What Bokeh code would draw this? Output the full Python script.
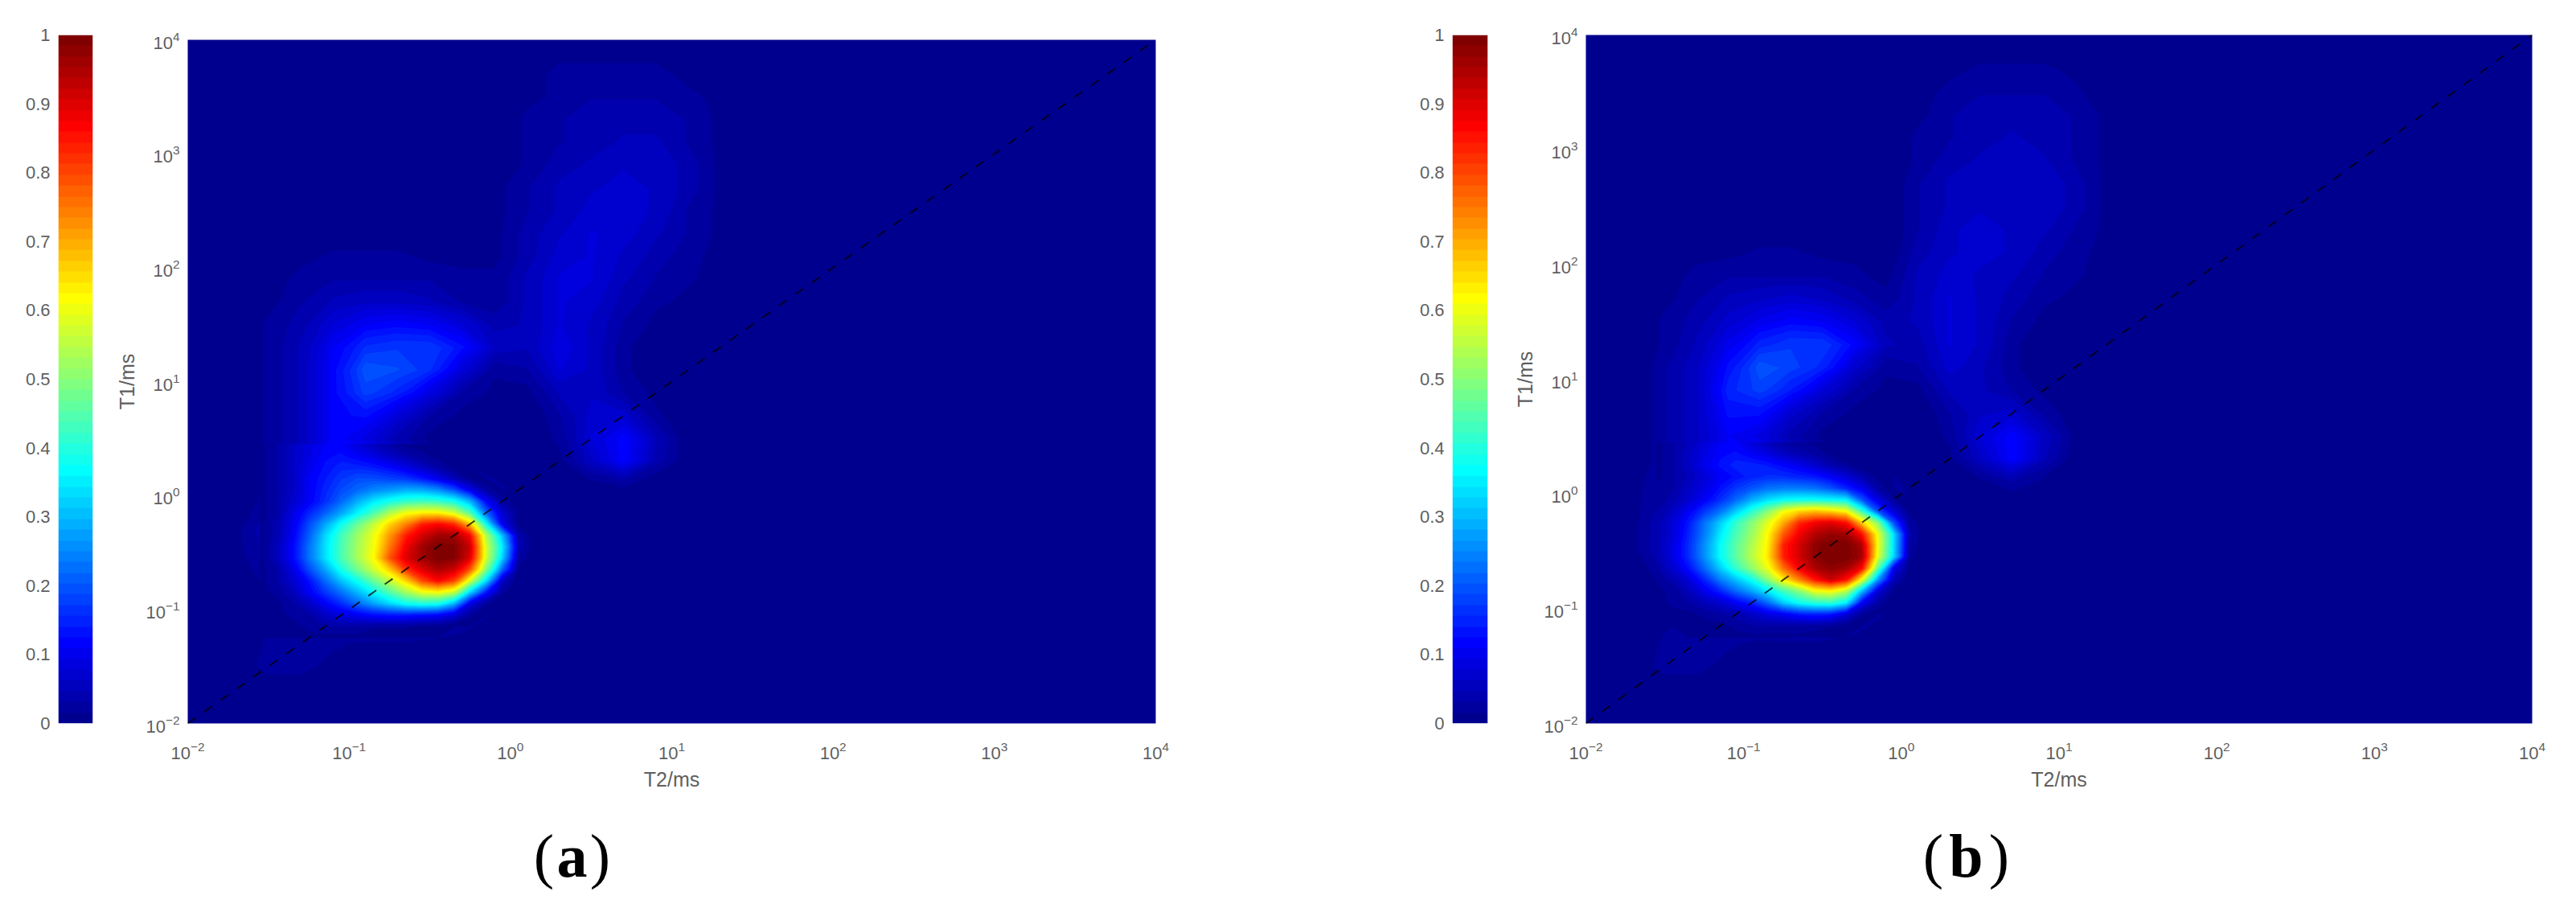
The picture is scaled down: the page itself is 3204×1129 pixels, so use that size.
import numpy as np
from bokeh.embed import file_html
from bokeh.resources import INLINE
from bokeh.layouts import row, column
from bokeh.models import Label, FixedTicker, LinearColorMapper, Range1d
from bokeh.plotting import figure

# ---- read-off values, in percent of the colour scale ----
# coarse field: columns log10(T2) = -1.9 ... 1.9 step 0.2, rows log10(T1) = -1.9 ... 3.9 step 0.2
field_log_t2 = [-1.9, -1.7, -1.5, -1.3, -1.1, -0.9, -0.7, -0.5, -0.3, -0.1, 0.1, 0.3, 0.5, 0.7, 0.9, 1.1, 1.3, 1.5, 1.7, 1.9]
field_log_t1 = [-1.9, -1.7, -1.5, -1.3, -1.1, -0.9, -0.7, -0.5, -0.3, -0.1, 0.1, 0.3, 0.5, 0.7, 0.9, 1.1, 1.3, 1.5, 1.7, 1.9,
                2.1, 2.3, 2.5, 2.7, 2.9, 3.1, 3.3, 3.5, 3.7, 3.9]
field_a = [
 [1,0,1,1],
 [1,1,1,1],
 [0,1,2,2,1],
 [0,0,2,2,2,1,1],
 [0,0,1,3,6,12,14,12,4],
 [0,0,1,7,20,35,52,60,35,3],
 [0,0,3,15,34,52,70,92,85,25],
 [0,1,4,20,40,60,85,100,100,35,2],
 [0,1,5,20,40,57,80,95,95,30,2],
 [0,0,3,10,20,32,42,42,35,5],
 [0,0,2,6,15,20,18,14,8,2,0,0,1,2],
 [0,0,2,6,12,12,7,4,1,0,0,1,6,12,4],
 [0,0,2,5,12,9,4,1,0,0,0,2,8,12,5],
 [0,0,2,5,12,13,8,3,1,0,0,3,7,7,2],
 [0,0,2,5,12,18,15,9,3,1,1,5,6,3,1],
 [0,0,2,5,12,20,19,16,8,2,3,8,6,2],
 [0,0,2,5,11,16,17,17,13,6,5,9,6,2],
 [0,0,2,4,8,11,12,11,8,4,5,8,6,3,1],
 [0,0,1,3,5,6,6,5,3,2,5,8,7,4,2,1],
 [0,0,1,2,3,3,3,3,2,2,5,8,8,5,3,2],
 [0,0,0,1,2,2,2,1,1,1,4,7,8,6,4,2,1],
 [0,0,0,0,0,0,0,0,0,1,4,6,8,7,5,3,1],
 [0,0,0,0,0,0,0,0,0,1,3,5,7,7,6,3,1],
 [0,0,0,0,0,0,0,0,0,1,3,5,6,7,6,4,1],
 [0,0,0,0,0,0,0,0,0,0,2,4,5,6,6,4,1],
 [0,0,0,0,0,0,0,0,0,0,2,3,4,5,5,3,1],
 [0,0,0,0,0,0,0,0,0,0,2,3,4,4,4,3,1],
 [0,0,0,0,0,0,0,0,0,0,1,2,3,3,3,2,1],
 [0,0,0,0,0,0,0,0,0,0,1,2,2,2,2,1],
 [0,0,0,0,0,0,0,0,0,0,0,1,1,1,1],
]
field_b = [
 [0,0,1,1],
 [0,1,1,1,1],
 [0,1,2,2,1,1],
 [0,0,2,2,2,1,1,1],
 [0,0,1,2,5,9,14,14,6],
 [0,0,1,6,15,30,48,62,40,3],
 [0,0,3,12,28,48,72,94,85,25],
 [0,1,6,20,40,58,88,100,100,30,2],
 [0,1,6,22,40,58,88,97,95,30,2],
 [0,1,4,12,22,33,38,40,32,6],
 [0,1,3,8,14,20,22,20,13,3,0,0,1,3,1],
 [0,0,3,6,12,12,8,4,1,0,0,1,6,12,5],
 [0,0,3,6,11,9,4,1,0,0,0,2,8,12,6,1],
 [0,0,3,6,13,13,7,3,1,0,0,3,6,7,3],
 [0,0,3,6,15,18,14,8,3,1,1,5,5,3,1],
 [0,0,3,6,13,20,18,15,7,2,3,7,5,2],
 [0,0,2,5,10,15,17,17,12,5,4,8,6,2],
 [0,0,2,4,7,10,12,11,8,4,5,8,6,3,1],
 [0,0,1,3,5,6,7,6,4,2,5,8,6,4,2,1],
 [0,0,1,2,3,3,3,3,2,1,5,7,6,5,3,2],
 [0,0,0,1,1,2,2,1,1,0,4,6,7,6,4,2,1],
 [0,0,0,0,0,0,0,0,0,0,3,6,7,6,5,3,1],
 [0,0,0,0,0,0,0,0,0,0,3,5,6,6,6,4,1],
 [0,0,0,0,0,0,0,0,0,0,3,5,6,6,6,4,1],
 [0,0,0,0,0,0,0,0,0,0,2,4,5,6,5,3,1],
 [0,0,0,0,0,0,0,0,0,0,2,3,4,5,4,3,1],
 [0,0,0,0,0,0,0,0,0,0,1,3,4,4,4,3,1],
 [0,0,0,0,0,0,0,0,0,0,1,2,3,3,3,2],
 [0,0,0,0,0,0,0,0,0,0,0,1,2,2,2,1],
 [0],
]
# finer read-off around the main peak: columns step 0.1, rows step 0.1
peak_log_t2 = [-1.55, -1.45, -1.35, -1.25, -1.15, -1.05, -0.95, -0.85, -0.75, -0.65, -0.55, -0.45, -0.35, -0.25, -0.15, -0.05, 0.05, 0.15]
peak_log_t1 = [-1.25, -1.15, -1.05, -0.95, -0.85, -0.75, -0.65, -0.55, -0.45, -0.35, -0.25, -0.15, -0.05, 0.05, 0.15, 0.25, 0.35, 0.45]
peak_a = [
 [1,1,1,1,1,1,1,0],
 [1,1,1,2,3,3,3,2,2,2,1,1],
 [0,1,2,3,6,9,11,13,14,14,13,12,8,2],
 [1,1,3,6,11,16,22,28,33,38,40,39,30,9,2],
 [1,2,5,11,17,23,30,37,45,53,60,62,57,33,14,2],
 [1,3,7,13,22,31,38,47,56,66,80,87,81,58,34,6],
 [1,3,9,19,28,39,48,57,67,82,90,95,92,79,50,22,1],
 [1,5,12,23,34,44,53,62,79,90,96,100,99,90,58,33,3],
 [1,5,12,23,34,44,53,61,75,88,96,100,99,92,58,36,5],
 [1,4,11,21,33,43,52,60,72,84,91,96,96,87,55,31,4],
 [1,4,10,19,28,38,47,56,66,74,84,87,83,68,38,10,1],
 [1,3,9,15,21,28,36,44,54,61,63,63,58,45,22,7,1],
 [1,3,7,11,16,22,29,35,39,42,43,42,39,30,12,3],
 [1,3,6,11,15,19,22,25,27,29,29,26,20,10,3],
 [1,3,6,11,14,17,19,19,18,17,14,10,5,1],
 [1,3,6,10,13,15,15,14,12,9,6,3,1],
 [1,3,6,9,12,13,11,9,6,4,2,1],
 [1,3,6,9,11,11,8,5,3,1,1],
]
peak_b = [
 [0,0,0,1,1,1,1,1,1,1],
 [0,0,1,1,1,2,3,3,3,3,3,2,1],
 [0,1,1,2,3,4,6,9,11,14,15,14,8,2],
 [1,2,3,5,7,11,15,22,32,38,41,42,36,11,3],
 [1,2,5,10,15,22,28,35,43,50,60,62,55,30,8,1],
 [2,4,8,15,24,31,38,50,63,74,85,92,86,60,27,5],
 [3,7,13,22,32,42,51,60,76,88,95,98,96,87,47,10,1],
 [4,9,16,26,37,46,55,64,84,91,98,100,100,96,60,34,2],
 [4,9,16,26,37,46,54,63,84,91,98,100,100,95,62,35,3],
 [4,8,15,24,35,44,52,62,78,88,94,97,96,86,61,35,4],
 [4,8,14,23,32,42,50,59,70,83,88,90,86,67,51,20,3],
 [3,6,11,17,23,32,41,50,61,66,68,66,62,43,20,8,1],
 [2,4,7,11,16,22,29,34,37,38,38,37,36,20,9,2],
 [2,3,6,9,13,17,20,23,24,24,23,20,15,10,3],
 [1,3,5,8,11,13,15,16,16,15,14,11,8,4,1],
 [1,3,6,10,13,15,15,14,12,10,7,4,2],
 [1,3,6,9,12,13,11,9,6,4,3,1],
 [1,3,5,8,11,11,8,5,3,2,1],
]
axis_ticks = [1e-2, 1e-1, 1e0, 1e1, 1e2, 1e3, 1e4]
diagonal = [1e-2, 1e4]
colorbar_ticks = [0, .1, .2, .3, .4, .5, .6, .7, .8, .9, 1]


def jet(n=64):
    out = []
    for i in range(n):
        v = (i + 1) / n
        r = min(max(min(4 * v - 1.5, -4 * v + 4.5), 0), 1)
        g = min(max(min(4 * v - 0.5, -4 * v + 3.5), 0), 1)
        b = min(max(min(4 * v + 0.5, -4 * v + 2.5), 0), 1)
        out.append("#%02x%02x%02x" % (round(r * 255), round(g * 255), round(b * 255)))
    return out


PALETTE = jet(64)
LEVELS = [k / 64 for k in range(64)] + [1.01]
GREY = "#5f5f5f"
FONT = "Liberation Sans"
HEIGHT = 1010
BOTTOM = 899
TOP = 43


def to_grid(rows, ncols):
    arr = np.zeros((len(rows), ncols))
    for i, r in enumerate(rows):
        arr[i, :len(r)] = r
    return arr / 100.0


def style_axes(p, size="22px"):
    for ax in (p.xaxis[0], p.yaxis[0]):
        ax.axis_line_color = None
        ax.major_tick_line_color = None
        ax.minor_tick_line_color = None
        ax.major_tick_out = 0
        ax.major_tick_in = 0
        ax.minor_tick_out = 0
        ax.minor_tick_in = 0
        ax.major_label_text_color = GREY
        ax.major_label_text_font = FONT
        ax.major_label_text_font_size = size
        ax.axis_label_text_color = GREY
        ax.axis_label_text_font = FONT
        ax.axis_label_text_font_size = "25px"
        ax.axis_label_text_font_style = "normal"
    p.grid.visible = False
    p.outline_line_color = None


def colorbar_fig(left, frame_w):
    mapper = LinearColorMapper(palette=PALETTE, low=0, high=1)
    p = figure(width=left + frame_w + 8, height=HEIGHT,
               frame_width=frame_w, frame_height=BOTTOM - TOP,
               x_range=Range1d(0, 1), y_range=Range1d(0, 1),
               min_border_left=left, min_border_right=8, min_border_top=TOP, min_border_bottom=HEIGHT - BOTTOM,
               output_backend="svg", toolbar_location=None)
    ramp = (np.arange(64) + 0.5).reshape(64, 1) / 64
    p.image(image=[ramp], x=0, y=0, dw=1, dh=1, color_mapper=mapper)
    style_axes(p)
    p.xaxis.visible = False
    p.yaxis[0].ticker = FixedTicker(ticks=colorbar_ticks)
    p.yaxis[0].major_label_standoff = 10
    return p


def panel_fig(field, peak, left, shift_top, frame_w):
    p = figure(width=left + frame_w + 20, height=HEIGHT - shift_top,
               frame_width=frame_w, frame_height=BOTTOM - TOP - shift_top,
               x_axis_type="log", y_axis_type="log",
               x_range=Range1d(1e-2, 1e4), y_range=Range1d(1e-2, 1e4),
               min_border_left=left, min_border_right=20, min_border_top=TOP, min_border_bottom=HEIGHT - BOTTOM,
               margin=(shift_top, 0, 0, 0),
               background_fill_color=PALETTE[0],
               output_backend="svg", toolbar_location=None)
    p.xaxis.axis_label = "T2/ms"
    p.yaxis.axis_label = "T1/ms"
    style_axes(p)
    p.xaxis[0].ticker = FixedTicker(ticks=axis_ticks)
    p.yaxis[0].ticker = FixedTicker(ticks=axis_ticks)
    p.xaxis[0].major_label_standoff = 22
    p.yaxis[0].major_label_standoff = 10
    p.xaxis[0].axis_label_standoff = 8
    p.yaxis[0].axis_label_standoff = 6

    def fill(xs, ys, rows):
        z = to_grid(rows, len(xs))
        x = 10.0 ** np.array(xs)
        y = 10.0 ** np.array(ys)
        lines = [PALETTE[0]] + list(PALETTE)
        p.contour(x, y, z, LEVELS, fill_color=PALETTE, line_color=lines, line_width=1)

    fill(field_log_t2, field_log_t1, field)
    fill(peak_log_t2, peak_log_t1, peak)

    p.line(diagonal, diagonal, line_color="#000000", line_width=2, line_alpha=0.75, line_dash="12 13")
    return p


def letters_fig():
    h = 115
    p = figure(width=3190, height=h, x_range=Range1d(0, 3190), y_range=Range1d(h, 0),
               x_axis_type=None, y_axis_type=None,
               min_border_left=0, min_border_right=0, min_border_top=0, min_border_bottom=0,
               output_backend="svg", toolbar_location=None)
    p.grid.visible = False
    p.outline_line_color = None
    for letter, cx, gap in (("a", 711, 35), ("b", 2445, 41)):
        for txt, off, style in (("(", -gap, "normal"), (letter, 0, "bold"), (")", gap, "normal")):
            p.add_layout(Label(x=cx + off, y=1063 - HEIGHT, text=txt,
                               text_font="Liberation Serif", text_font_size="76px", text_font_style=style,
                               text_align="center", text_baseline="alphabetic", text_color="#000000"))
    return p


cb_a = colorbar_fig(72, 43)
pa = panel_fig(field_a, peak_a, 110, 6, 1204)
cb_b = colorbar_fig(349, 44)
pb = panel_fig(field_b, peak_b, 114, 0, 1177)

page = column(row(cb_a, pa, cb_b, pb, spacing=0), letters_fig(), spacing=0)
open("out.html", "w").write(file_html(page, INLINE))
